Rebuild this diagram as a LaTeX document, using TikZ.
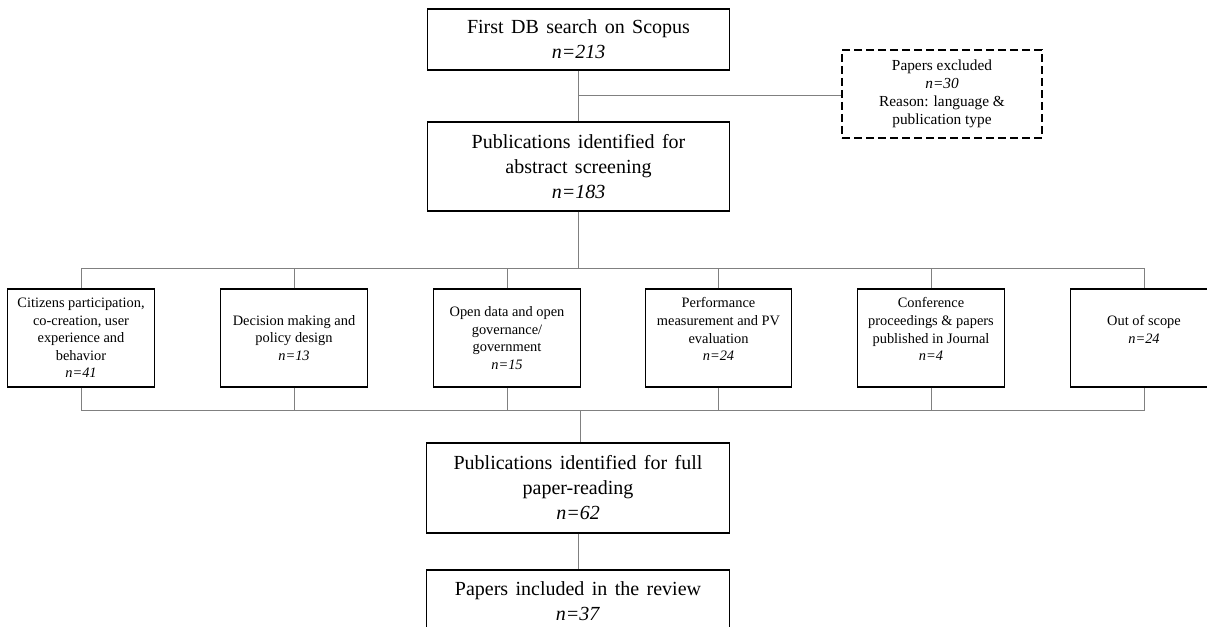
\documentclass[tikz,border=0pt]{standalone}
\usepackage{fontspec}
\setmainfont{Liberation Serif}
\usetikzlibrary{calc}
\definecolor{linkgray}{RGB}{128,128,128}
\newcommand{\bigboxfont}{\fontsize{15}{18.75}\selectfont\spaceskip=0.37em plus 0.1em\relax}

\begin{document}
\begin{tikzpicture}[x=0.75pt,y=-0.75pt,
	bigbox/.style={draw,line width=0.9pt,minimum width=227pt,align=center,inner sep=2pt,font=\bigboxfont},
	catbox/.style={draw,line width=0.9pt,minimum width=110pt,minimum height=73.5pt,align=center,inner sep=2pt,font=\fontsize{10.8}{13.2}\selectfont},
	exclbox/.style={draw,dash pattern=on 6pt off 3pt,line width=0.8pt,minimum width=150pt,minimum height=66pt,align=center,inner sep=2pt,font=\fontsize{11.5}{13.5}\selectfont},
	link/.style={draw=linkgray,line width=0.75pt}]
		\useasboundingbox (0,0) rectangle (1207,627);% same frame as the source page

		% main column
		\node[bigbox,minimum height=45.75pt] (first) at (578.5,39.5) {First DB search on Scopus\\ \textit{n=213}};
		\node[bigbox,minimum height=66.75pt] (screen) at (578.5,166.5) {Publications identified for\\ abstract screening\\ \textit{n=183}};
		\node[exclbox] (excl) at (942,94) {Papers excluded\\ \textit{n=30}\\ Reason: language \&\\ publication type};

		% categories
		\node[catbox] (cat1) at (81,338) {Citizens participation,\\ co-creation, user\\ experience and\\ behavior\\ \textit{n=41}};
		\node[catbox] (cat2) at (294,338) {Decision making and\\ policy design\\ \textit{n=13}};
		\node[catbox] (cat3) at (507,338) {Open data and open\\ governance/\\ government\\ \textit{n=15}};
		\node[catbox] (cat4) at (718.5,338) {Performance\\ measurement and PV\\ evaluation\\ \textit{n=24}\\ \mbox{}};
		\node[catbox] (cat5) at (931,338) {Conference\\ proceedings \& papers\\ published in Journal\\ \textit{n=4}\\ \mbox{}};
		\node[catbox] (cat6) at (1144,338) {Out of scope\\ \textit{n=24}\\ \mbox{}};

		\node[bigbox,minimum height=67.5pt] (full) at (578,488) {Publications identified for full\\ paper-reading\\ \textit{n=62}};
		\node[bigbox,minimum height=46.5pt] (incl) at (578,601) {Papers included in the review\\ \textit{n=37}};

		\coordinate (split) at ($(first.south)!0.5!(screen.north)$);
		\coordinate (topbus) at (578.5,269);
		\coordinate (botbus) at (580,410);

		\draw[link] (first.south) -- (screen.north);
		\draw[link] (split) -- (split -| excl.west);
		\draw[link] (screen.south) -- (topbus);

		% upper bus
		\draw[link] (cat1.north) -- (cat1.north |- topbus) -- (cat6.north |- topbus) -- (cat6.north);
		\draw[link] (cat2.north) -- (cat2.north |- topbus) (cat3.north) -- (cat3.north |- topbus)
			(cat4.north) -- (cat4.north |- topbus) (cat5.north) -- (cat5.north |- topbus);
		% lower bus
		\draw[link] (cat1.south) -- (cat1.south |- botbus) -- (cat6.south |- botbus) -- (cat6.south);
		\draw[link] (cat2.south) -- (cat2.south |- botbus) (cat3.south) -- (cat3.south |- botbus)
			(cat4.south) -- (cat4.south |- botbus) (cat5.south) -- (cat5.south |- botbus);

		\draw[link] (botbus) -- (botbus |- full.north);
		\draw[link] (full.south) -- (incl.north);
	\end{tikzpicture}
\end{document}
